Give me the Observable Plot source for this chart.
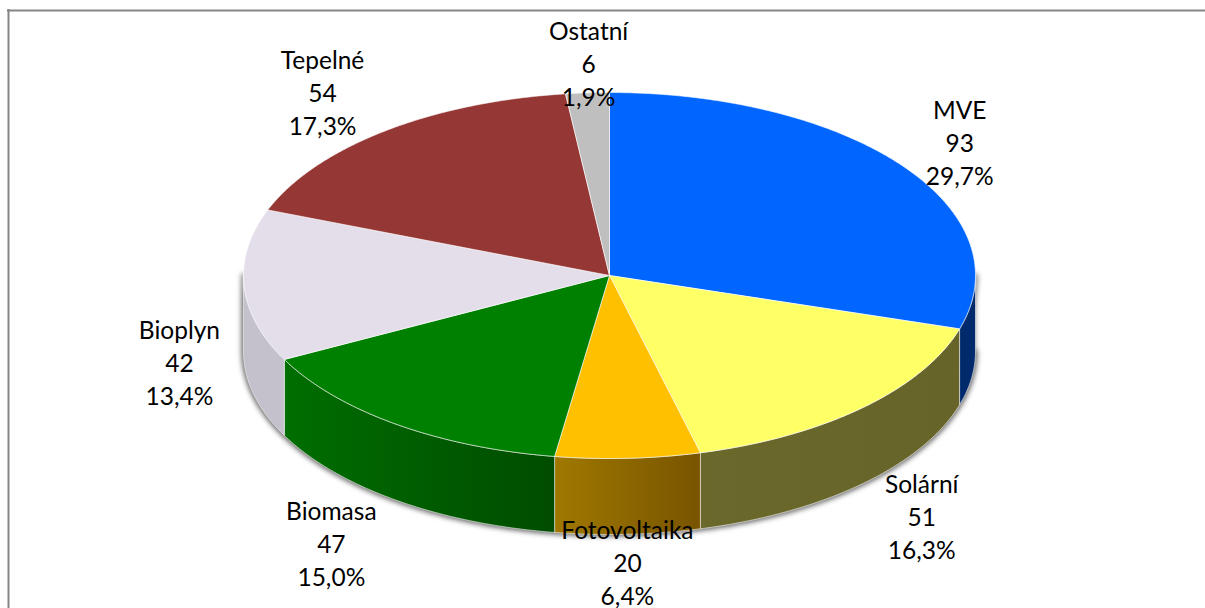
<!DOCTYPE html>
<html>
<head>
<meta charset="utf-8">
<script src="https://cdn.jsdelivr.net/npm/d3@7"></script>
<script src="https://cdn.jsdelivr.net/npm/@observablehq/plot@0.6"></script>
<style>
  html, body { margin: 0; padding: 0; background: #fff; overflow: hidden; }
</style>
</head>
<body>
<div id="chart"></div>
<script>
// Data
const names = ["MVE", "Solární", "Fotovoltaika", "Biomasa", "Bioplyn", "Tepelné", "Ostatní"];
const values = [93, 51, 20, 47, 42, 54, 6];
const shares = ["29,7%", "16,3%", "6,4%", "15,0%", "13,4%", "17,3%", "1,9%"];

// Styles
const topColors = ["#0066ff", "#ffff66", "#ffc000", "#008000", "#e3deea", "#953735", "#bfbfbf"];
const sideStops = [
  ["#002a6c", "#002a6c"],
  ["#6a682b", "#666428"],
  ["#a07800", "#785400"],
  ["#006e00", "#004c00"],
  ["#c4c0cc", "#c4c0cc"],
  ["#953735", "#953735"],
  ["#bfbfbf", "#bfbfbf"]
];

// Layout of the tilted disc, in pixels of the picture
const W = 1205, H = 608, CX = 609, CY = 275, RX = 366, TILT = 0.5, DEPTH = 76;
// Label block centres, as [right of centre, below centre] in disc radii
const labelAt = [
  [0.957, -0.366],
  [0.853, 0.656],
  [0.049, 0.781],
  [-0.760, 0.730],
  [-1.175, 0.235],
  [-0.784, -0.502],
  [-0.057, -0.582]
];

const total = d3.sum(values);
const cum = d3.cumsum(values);
const angle = v => (v / total) * 2 * Math.PI;
const stepsOf = (a, b) => Math.max(2, Math.ceil(Math.abs(b - a) * 120));
const rim = (a, drop = 0) => ({x: Math.sin(a), y: -Math.cos(a) * TILT + drop});
function arc(a, b, drop = 0) {
  const n = stepsOf(a, b);
  return d3.range(n + 1).map(i => rim(a + (b - a) * i / n, drop));
}
const drop = DEPTH / RX;

const tops = [], sides = [];
names.forEach((name, i) => {
  const a = angle(i ? cum[i - 1] : 0), b = angle(cum[i]);
  tops.push({name, i, pts: [{x: 0, y: 0}, ...arc(a, b), {x: 0, y: 0}]});
  // only the part of the rim that faces the viewer has a visible wall
  const lo = Math.max(a, Math.PI / 2), hi = Math.min(b, 3 * Math.PI / 2);
  if (hi > lo) {
    const upper = arc(lo, hi), lower = arc(hi, lo, drop);
    sides.push({name, i, pts: [...upper, ...lower, upper[0]]});
  }
});

// Silhouette of the front wall, used for the soft shadow
const silhouette = [...arc(Math.PI / 2, 3 * Math.PI / 2), ...arc(3 * Math.PI / 2, Math.PI / 2, drop)];

const gradients = () => {
  const defs = d3.create("svg:defs");
  sideStops.forEach((stops, i) => {
    const g = defs.append("linearGradient").attr("id", "side" + i);
    g.append("stop").attr("offset", "0%").attr("stop-color", stops[0]);
    g.append("stop").attr("offset", "100%").attr("stop-color", stops[1]);
  });
  return defs.node();
};

const blurred = (index, scales, values, dimensions, context, next) => {
  const g = next(index, scales, values, dimensions, context);
  g.style.filter = "blur(2.5px)";
  return g;
};

const labels = names.map((name, i) => ({
  x: labelAt[i][0],
  y: labelAt[i][1],
  text: `${name}\n${values[i]}\n${shares[i]}`
}));

const chart = Plot.plot({
  width: W,
  height: H,
  margin: 0,
  style: {background: "#fff", overflow: "hidden"},
  x: {type: "linear", domain: [-CX / RX, (W - CX) / RX], range: [0, W], axis: null},
  y: {type: "linear", domain: [-CY / RX, (H - CY) / RX], range: [0, H], axis: null},
  marks: [
    gradients,
    Plot.ruleX([(8 - CX) / RX], {y1: (9 - CY) / RX, y2: (H - CY) / RX, stroke: "#868686", strokeWidth: 2}),
    Plot.ruleY([(10 - CY) / RX], {x1: (7 - CX) / RX, x2: (W - CX) / RX, stroke: "#868686", strokeWidth: 2}),
    Plot.line(silhouette, {x: "x", y: "y", fill: "#000", fillOpacity: 0.45, stroke: "#000", strokeOpacity: 0.45, strokeWidth: 5, curve: "linear", render: blurred}),
    ...sides.map(s => Plot.line(s.pts, {
      x: "x", y: "y", curve: "linear",
      fill: `url(#side${s.i})`, stroke: "#fff", strokeOpacity: 0.55, strokeWidth: 1
    })),
    ...tops.map(s => Plot.line(s.pts, {
      x: "x", y: "y", curve: "linear",
      fill: topColors[s.i], stroke: "#fff", strokeOpacity: 0.6, strokeWidth: 1
    })),
    Plot.text(labels, {
      x: "x", y: "y", text: "text",
      fontFamily: "Lato", fontSize: 24.5, lineHeight: 1.347, fill: "#000", textAnchor: "middle", lineAnchor: "middle"
    })
  ]
});
document.getElementById("chart").appendChild(chart);
</script>
</body>
</html>
